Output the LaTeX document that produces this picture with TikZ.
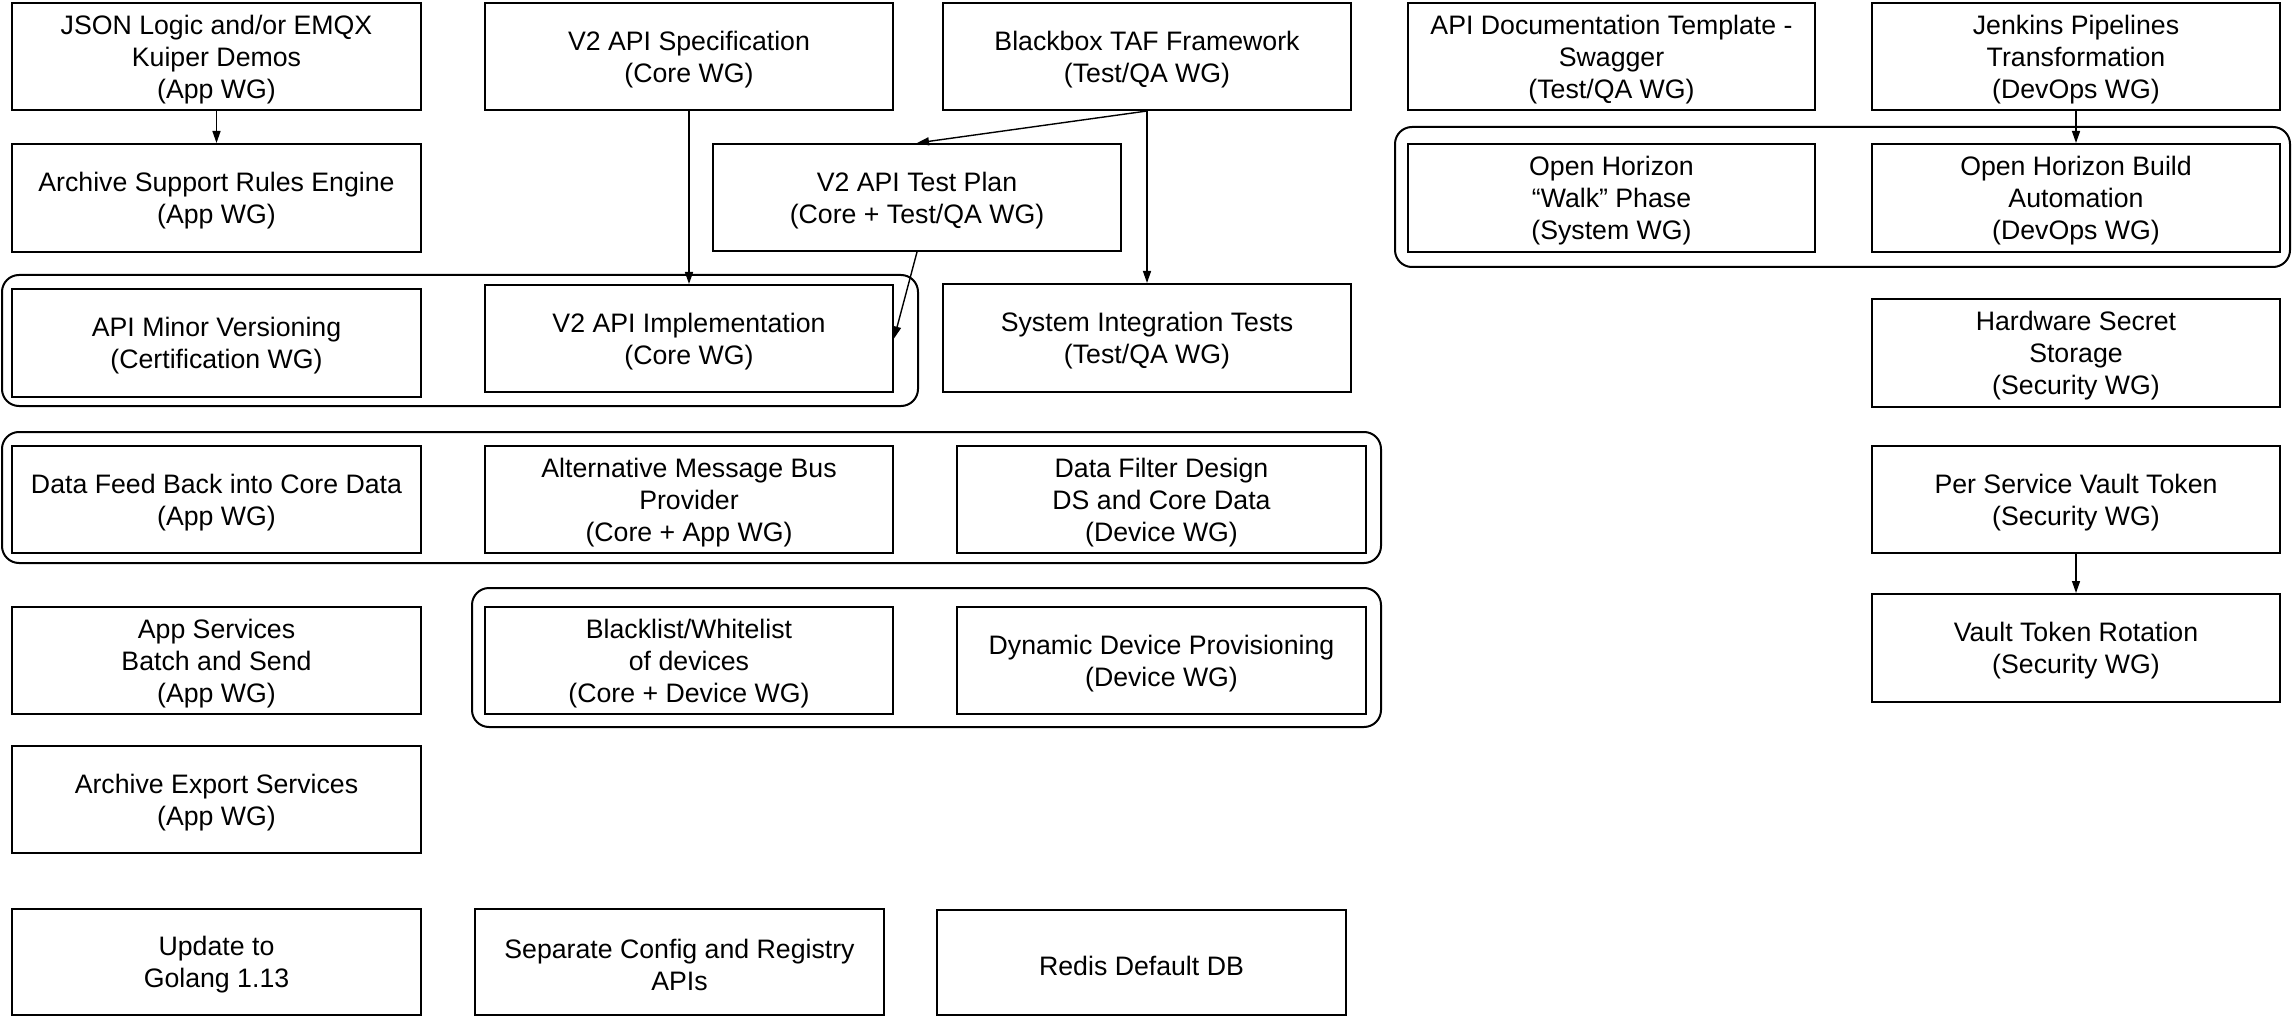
\documentclass[tikz,border=0pt]{standalone}
\usepackage{fontspec}
\setmainfont{Liberation Sans}
\usetikzlibrary{arrows.meta}
\tikzset{
  box/.style={draw, line width=2pt, inner sep=0pt},
  txt/.style={align=center, inner sep=0pt, font=\fontsize{26.7}{32}\selectfont},
  grp/.style={draw, line width=2pt, rounded corners=17pt},
  arr/.style={draw, line width=1.4pt, -{Triangle[length=12pt,width=8pt]}}
}
\newcommand\bx[6]{\node[box, minimum width={(#4-#2)*1pt}, minimum height={(#5-#3)*1pt}] (#1) at ({(#2+#4)/2},{(#3+#5)/2}) {};
  \node[txt] (#1-t) at ([yshift=-3pt]#1.center) {#6};}
\begin{document}
\begin{tikzpicture}[x=1pt,y=-1pt]
\useasboundingbox (0,0) rectangle (2292,1016);
% groups
\draw[grp] (2,275) rectangle (918,406);
\draw[grp] (2,432) rectangle (1381,563);
\draw[grp] (472,588) rectangle (1381,727);
\draw[grp] (1395,127) rectangle (2290,267);
% row 1
\bx{json}{12}{3}{421}{110}{JSON Logic and/or EMQX\\Kuiper Demos\\(App WG)}
\bx{spec}{485}{3}{893}{110}{V2 API Specification\\(Core WG)}
\bx{taf}{943}{3}{1351}{110}{Blackbox TAF Framework\\(Test/QA WG)}
\bx{apidoc}{1408}{3}{1815}{110}{API Documentation Template -\\Swagger\\(Test/QA WG)}
\bx{jenkins}{1872}{3}{2280}{110}{Jenkins Pipelines\\Transformation\\(DevOps WG)}
% row 2
\bx{archsup}{12}{144}{421}{252}{Archive Support Rules Engine\\(App WG)}
\bx{testplan}{713}{144}{1121}{251}{V2 API Test Plan\\(Core + Test/QA WG)}
\bx{ohwalk}{1408}{144}{1815}{252}{Open Horizon\\“Walk” Phase\\(System WG)}
\bx{ohbuild}{1872}{144}{2280}{252}{Open Horizon Build\\Automation\\(DevOps WG)}
% row 3
\bx{minor}{12}{289}{421}{397}{API Minor Versioning\\(Certification WG)}
\bx{impl}{485}{285}{893}{392}{V2 API Implementation\\(Core WG)}
\bx{sit}{943}{284}{1351}{392}{System Integration Tests\\(Test/QA WG)}
\bx{hwsec}{1872}{299}{2280}{407}{Hardware Secret\\Storage\\(Security WG)}
% row 4
\bx{datafeed}{12}{446}{421}{553}{Data Feed Back into Core Data\\(App WG)}
\bx{altmsg}{485}{446}{893}{553}{Alternative Message Bus\\Provider\\(Core + App WG)}
\bx{filter}{957}{446}{1366}{553}{Data Filter Design\\DS and Core Data\\(Device WG)}
\bx{pervault}{1872}{446}{2280}{553}{Per Service Vault Token\\(Security WG)}
% row 5
\bx{appsvc}{12}{607}{421}{714}{App Services\\Batch and Send\\(App WG)}
\bx{blacklist}{485}{607}{893}{714}{Blacklist/Whitelist\\of devices\\(Core + Device WG)}
\bx{dynamic}{957}{607}{1366}{714}{Dynamic Device Provisioning\\(Device WG)}
\bx{rotation}{1872}{594}{2280}{702}{Vault Token Rotation\\(Security WG)}
% row 6
\bx{archexp}{12}{746}{421}{853}{Archive Export Services\\(App WG)}
% row 7
\bx{golang}{12}{909}{421}{1015}{Update to\\Golang 1.13}
\bx{sepconf}{475}{909}{884}{1015}{Separate Config and Registry\\APIs}
\bx{redis}{937}{910}{1346}{1015}{Redis Default DB}
% arrows
\draw[arr] (json.south) -- (archsup.north);
\draw[arr] (spec.south) -- (impl.north);
\draw[arr] (taf.south) -- (testplan.north);
\draw[arr] (taf.south) -- (sit.north);
\draw[arr] (testplan.south) -- (impl.east);
\draw[arr] (jenkins.south) -- (ohbuild.north);
\draw[arr] (pervault.south) -- (rotation.north);
\end{tikzpicture}
\end{document}
